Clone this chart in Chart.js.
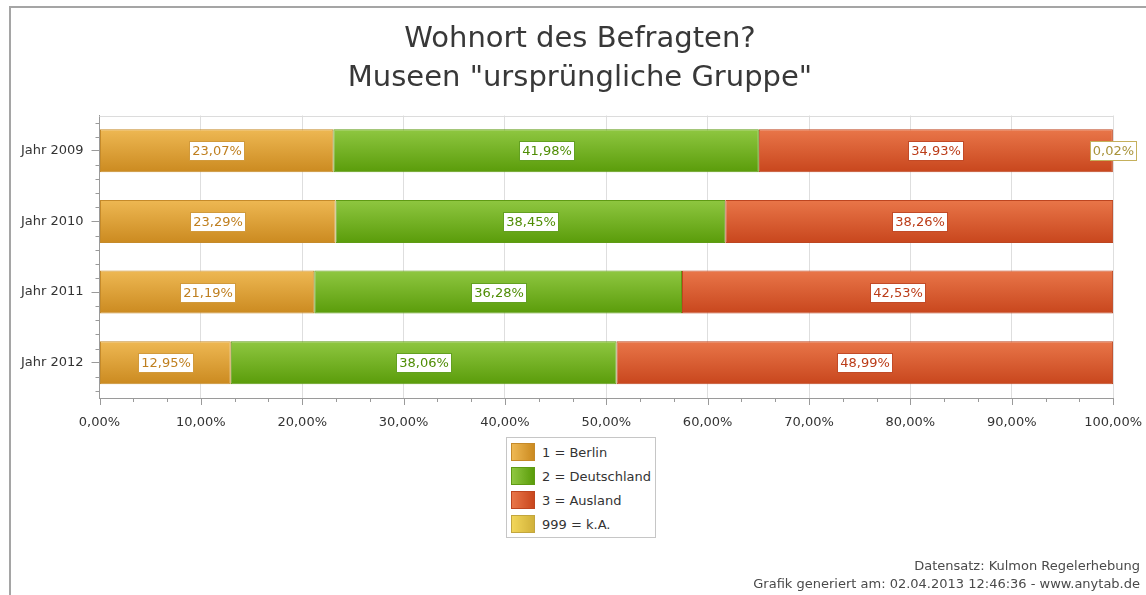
<!DOCTYPE html>
<html>
<head>
<meta charset="utf-8">
<title>Wohnort des Befragten?</title>
<script src="https://cdn.jsdelivr.net/npm/chart.js@4.4.1/dist/chart.umd.min.js"></script>
<style>
    html, body { margin: 0; padding: 0; background: #fff; overflow: hidden; width: 1146px; height: 595px; }
    #frameTop { position: absolute; left: 9px; top: 6px; width: 1137px; height: 2px; background: #a5a5a5; }
    #frameLeft { position: absolute; left: 9px; top: 6px; width: 2px; height: 589px; background: #a5a5a5; }
    #mygra { position: absolute; left: 0; top: 0; }
    #legend { position: absolute; left: 506px; top: 437px; width: 148px; background: #fff;
              border: 1px solid #c6c6c6; padding: 2px 0 1px 0;
              font: 13px "DejaVu Sans", sans-serif; color: #333; }
    #legend .item { height: 24px; display: flex; align-items: center; }
    #legend .sw { width: 24px; height: 18px; margin: 0 7px 0 4px; box-sizing: border-box; border: 1px solid; }
    #footer { position: absolute; right: 6px; top: 557px; text-align: right;
              font: 13px "DejaVu Sans", sans-serif; line-height: 18px; color: #4a4a4a; white-space: nowrap; }
</style>
</head>
<body>
<div id="frameTop"></div>
<div id="frameLeft"></div>
<canvas id="mygra" width="1146" height="595"></canvas>
<div id="legend"></div>
<div id="footer">Datensatz: Kulmon Regelerhebung<br>Grafik generiert am: 02.04.2013 12:46:36 - www.anytab.de</div>
<script>
const years = ['Jahr 2009', 'Jahr 2010', 'Jahr 2011', 'Jahr 2012'];
const seriesNames = ['1 = Berlin', '2 = Deutschland', '3 = Ausland', '999 = k.A.'];
const berlin = [23.07, 23.29, 21.19, 12.95];
const deutschland = [41.98, 38.45, 36.28, 38.06];
const ausland = [34.93, 38.26, 42.53, 48.99];
const keineAngabe = [0.02, 0, 0, 0];

const lightColors = ['#eeb853', '#8fc741', '#e97649', '#f2d659'];
const darkColors = ['#cb8a20', '#5a9c0a', '#c8461d', '#d1b13a'];
const edgeColors = ['#c58a2a', '#5f9a14', '#bd4520', '#c2a63e'];
const labelText = ['#bf7f1f', '#4f8d05', '#bb3c18', '#a8933a'];
const labelBorder = ['#d19a3c', '#63a021', '#c24a27', '#c5b05c'];

const barPct = 0.61;

function fmt(v) {
    return v.toFixed(2).replace('.', ',') + '%';
}

function barFill(i) {
    return function(ctx) {
        const chart = ctx.chart;
        const y = chart.scales.y;
        if (!chart.chartArea || !y || ctx.dataIndex === undefined) return darkColors[i];
        const center = y.getPixelForValue(ctx.dataIndex);
        const half = y.height / years.length * barPct / 2;
        const g = chart.ctx.createLinearGradient(0, center - half, 0, center + half);
        g.addColorStop(0, lightColors[i]);
        g.addColorStop(1, darkColors[i]);
        return g;
    };
}

// white boxes with the percent values
const valueBoxes = {
    id: 'valueBoxes',
    afterDatasetsDraw(chart) {
        const c = chart.ctx;
        c.save();
        c.font = '13px "DejaVu Sans"';
        c.textAlign = 'center';
        c.textBaseline = 'middle';
        chart.data.datasets.forEach(function(ds, i) {
            const meta = chart.getDatasetMeta(i);
            meta.data.forEach(function(bar, j) {
                const v = ds.data[j];
                if (!v) return;
                const text = fmt(v);
                const w = Math.round(c.measureText(text).width) + 5;
                const h = 19;
                const x = Math.round((bar.x + bar.base) / 2 - w / 2) + 0.5;
                const y = Math.round(bar.y - h / 2) + 0.5;
                c.fillStyle = '#fff';
                c.fillRect(x, y, w, h);
                c.strokeStyle = labelBorder[i];
                c.lineWidth = 1;
                c.strokeRect(x, y, w, h);
                c.fillStyle = labelText[i];
                c.fillText(text, x + w / 2, y + h / 2 + 1);
            });
        });
        c.restore();
    }
};

// x ticks (major + minor), y minor ticks and the top border of the plot
const axisTicks = {
    id: 'axisTicks',
    afterDraw(chart) {
        const c = chart.ctx;
        const xs = chart.scales.x, ys = chart.scales.y;
        const area = chart.chartArea;
        c.save();
        c.strokeStyle = '#9a9a9a';
        c.lineWidth = 1;
        c.beginPath();
        for (let k = 0; k <= 30; k++) {
            const px = Math.round(xs.getPixelForValue(k * 10 / 3)) + 0.5;
            c.moveTo(px, area.bottom);
            c.lineTo(px, area.bottom + (k % 3 === 0 ? 7 : 4));
        }
        for (let i = 0; i < years.length; i++) {
            [-0.4, -0.2, 0.2, 0.4].forEach(function(d) {
                const py = Math.round(ys.getPixelForValue(i + d)) + 0.5;
                c.moveTo(area.left - 4, py);
                c.lineTo(area.left, py);
            });
        }
        c.stroke();
        c.strokeStyle = '#dcdcdc';
        c.beginPath();
        c.moveTo(area.left, Math.round(area.top) + 0.5);
        c.lineTo(area.right, Math.round(area.top) + 0.5);
        c.stroke();
        c.restore();
    }
};

function buildLegend() {
    const box = document.getElementById('legend');
    seriesNames.forEach(function(name, i) {
        const item = document.createElement('div');
        item.className = 'item';
        const sw = document.createElement('span');
        sw.className = 'sw';
        sw.style.background = 'linear-gradient(to right, ' + lightColors[i] + ', ' + darkColors[i] + ')';
        sw.style.borderColor = edgeColors[i];
        const label = document.createElement('span');
        label.textContent = name;
        item.appendChild(sw);
        item.appendChild(label);
        box.appendChild(item);
    });
}

function drawChart() {
    const values = [berlin, deutschland, ausland, keineAngabe];
    const datasets = values.map(function(d, i) {
        return {
            label: seriesNames[i],
            data: d,
            backgroundColor: barFill(i),
            borderColor: edgeColors[i],
            borderWidth: 1,
            borderSkipped: false,
            categoryPercentage: 1,
            barPercentage: barPct
        };
    });

    const config = {
        type: 'bar',
        data: { labels: years, datasets: datasets },
        options: {
            indexAxis: 'y',
            responsive: false,
            animation: false,
            layout: { padding: { top: 0, left: 14, right: 0, bottom: 167 } },
            scales: {
                x: {
                    stacked: true,
                    min: 0,
                    max: 100,
                    afterFit: function(s) { s.height = 30; },
                    ticks: {
                        stepSize: 10,
                        padding: 4,
                        color: '#333',
                        font: { family: 'DejaVu Sans', size: 13 },
                        callback: function(v) { return fmt(v); }
                    },
                    grid: { color: '#dedede', tickColor: 'rgba(0,0,0,0)', tickLength: 13 },
                    border: { color: '#9a9a9a' }
                },
                y: {
                    stacked: true,
                    afterFit: function(s) { s.width = 85.5; },
                    ticks: {
                        padding: 8,
                        color: '#333',
                        font: { family: 'DejaVu Sans', size: 13 }
                    },
                    grid: { drawOnChartArea: false, offset: false, tickColor: '#9a9a9a', tickLength: 8 },
                    border: { color: '#9a9a9a' }
                }
            },
            plugins: {
                legend: { display: false },
                tooltip: { enabled: false },
                title: {
                    display: true,
                    text: ['Wohnort des Befragten?', 'Museen "ursprüngliche Gruppe"'],
                    color: '#383838',
                    font: { family: 'DejaVu Sans', size: 29, weight: 'normal', lineHeight: 39 / 29 },
                    padding: { top: 19.5, bottom: 18 }
                }
            }
        },
        plugins: [valueBoxes, axisTicks]
    };

    const ctx = document.getElementById('mygra').getContext('2d');
    window.myChart = new Chart(ctx, config);
}

window.onload = function() {
    buildLegend();
    drawChart();
};
</script>
</body>
</html>
